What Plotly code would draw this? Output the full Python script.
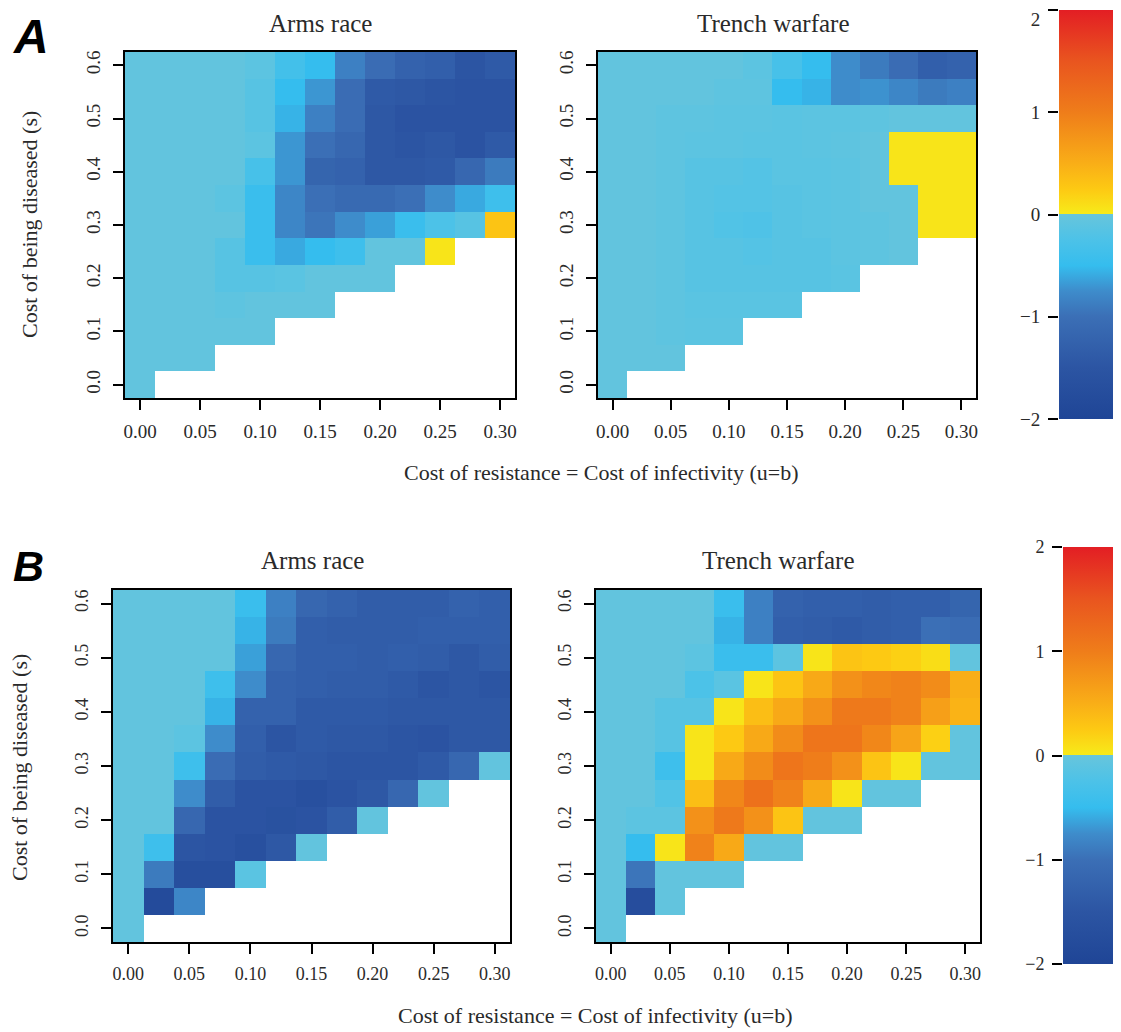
import plotly.graph_objects as go

# ---------------- data ----------------
cost_ub = [0.0, 0.025, 0.05, 0.075, 0.1, 0.125, 0.15, 0.175, 0.2, 0.225, 0.25, 0.275, 0.3]
cost_s_top_down = [0.6, 0.55, 0.5, 0.45, 0.4, 0.35, 0.3, 0.25, 0.2, 0.15, 0.1, 0.05, 0.0]

x_tickvals = [0.0, 0.05, 0.1, 0.15, 0.2, 0.25, 0.3]
x_ticktext = ["0.00", "0.05", "0.10", "0.15", "0.20", "0.25", "0.30"]
y_tickvals = [0.0, 0.1, 0.2, 0.3, 0.4, 0.5, 0.6]
y_ticktext = ["0.0", "0.1", "0.2", "0.3", "0.4", "0.5", "0.6"]
cb_tickvals = [-2, -1, 0, 1, 2]
cb_ticktext = ["\u22122", "\u22121", "0", "1", "2"]

N = None
# rows listed from s = 0.6 (top) down to s = 0.0 (bottom)
a_arms = [
    [-0.05, -0.05, -0.05, -0.05, -0.1, -0.35, -0.5, -0.85, -1.05, -1.25, -1.3, -1.5, -1.4],
    [-0.05, -0.05, -0.05, -0.05, -0.15, -0.5, -0.7, -1.05, -1.4, -1.45, -1.5, -1.55, -1.55],
    [-0.05, -0.05, -0.05, -0.05, -0.15, -0.55, -0.85, -1.05, -1.45, -1.55, -1.55, -1.55, -1.55],
    [-0.05, -0.05, -0.05, -0.05, -0.1, -0.7, -1.0, -1.15, -1.45, -1.5, -1.45, -1.55, -1.4],
    [-0.05, -0.05, -0.05, -0.05, -0.3, -0.7, -1.2, -1.25, -1.45, -1.45, -1.4, -1.15, -0.9],
    [-0.05, -0.05, -0.05, -0.1, -0.45, -0.8, -1.0, -1.1, -1.1, -1.0, -0.75, -0.6, -0.4],
    [-0.05, -0.05, -0.05, -0.05, -0.45, -0.8, -0.95, -0.75, -0.65, -0.45, -0.25, -0.15, 0.3],
    [-0.05, -0.05, -0.05, -0.15, -0.45, -0.6, -0.5, -0.4, -0.05, -0.05, 0.05, N, N],
    [-0.05, -0.05, -0.05, -0.15, -0.15, -0.12, -0.05, -0.05, -0.05, N, N, N, N],
    [-0.05, -0.05, -0.05, -0.08, -0.05, -0.05, -0.05, N, N, N, N, N, N],
    [-0.05, -0.05, -0.05, -0.05, -0.05, N, N, N, N, N, N, N, N],
    [-0.05, -0.05, -0.05, N, N, N, N, N, N, N, N, N, N],
    [-0.05, N, N, N, N, N, N, N, N, N, N, N, N],
]
a_trench = [
    [-0.05, -0.05, -0.05, -0.05, -0.05, -0.1, -0.3, -0.5, -0.75, -0.9, -1.05, -1.3, -1.25],
    [-0.05, -0.05, -0.05, -0.05, -0.08, -0.08, -0.5, -0.55, -0.75, -0.72, -0.8, -0.9, -0.85],
    [-0.05, -0.05, -0.08, -0.08, -0.1, -0.1, -0.12, -0.1, -0.1, -0.08, -0.05, -0.05, -0.05],
    [-0.05, -0.05, -0.08, -0.1, -0.1, -0.12, -0.12, -0.1, -0.08, -0.05, 0.05, 0.05, 0.05],
    [-0.05, -0.05, -0.08, -0.15, -0.15, -0.18, -0.12, -0.12, -0.1, -0.05, 0.05, 0.05, 0.05],
    [-0.05, -0.05, -0.08, -0.15, -0.18, -0.18, -0.15, -0.12, -0.1, -0.05, -0.05, 0.05, 0.05],
    [-0.05, -0.05, -0.08, -0.15, -0.2, -0.22, -0.15, -0.12, -0.1, -0.08, -0.05, 0.05, 0.05],
    [-0.05, -0.05, -0.08, -0.15, -0.15, -0.18, -0.15, -0.15, -0.1, -0.08, -0.05, N, N],
    [-0.05, -0.05, -0.08, -0.15, -0.15, -0.15, -0.15, -0.15, -0.12, N, N, N, N],
    [-0.05, -0.05, -0.08, -0.12, -0.12, -0.12, -0.12, N, N, N, N, N, N],
    [-0.05, -0.05, -0.08, -0.1, -0.1, N, N, N, N, N, N, N, N],
    [-0.05, -0.05, -0.05, N, N, N, N, N, N, N, N, N, N],
    [-0.05, N, N, N, N, N, N, N, N, N, N, N, N],
]
b_arms = [
    [-0.05, -0.05, -0.05, -0.05, -0.45, -0.85, -1.15, -1.25, -1.35, -1.35, -1.35, -1.25, -1.3],
    [-0.05, -0.05, -0.05, -0.05, -0.55, -0.9, -1.3, -1.35, -1.35, -1.35, -1.3, -1.3, -1.3],
    [-0.05, -0.05, -0.05, -0.05, -0.65, -1.15, -1.3, -1.3, -1.35, -1.3, -1.35, -1.45, -1.35],
    [-0.05, -0.05, -0.05, -0.4, -0.75, -1.25, -1.3, -1.35, -1.35, -1.4, -1.5, -1.45, -1.5],
    [-0.05, -0.05, -0.05, -0.55, -1.25, -1.25, -1.4, -1.4, -1.4, -1.45, -1.45, -1.45, -1.45],
    [-0.05, -0.05, -0.1, -0.75, -1.3, -1.5, -1.4, -1.45, -1.45, -1.5, -1.55, -1.45, -1.45],
    [-0.05, -0.05, -0.4, -1.05, -1.35, -1.4, -1.45, -1.5, -1.5, -1.5, -1.4, -1.15, -0.05],
    [-0.05, -0.05, -0.75, -1.35, -1.55, -1.55, -1.65, -1.55, -1.45, -1.15, -0.05, N, N],
    [-0.05, -0.05, -1.15, -1.55, -1.55, -1.6, -1.55, -1.35, -0.05, N, N, N, N],
    [-0.05, -0.4, -1.5, -1.55, -1.65, -1.45, -0.05, N, N, N, N, N, N],
    [-0.05, -0.9, -1.7, -1.7, -0.12, N, N, N, N, N, N, N, N],
    [-0.05, -1.8, -0.8, N, N, N, N, N, N, N, N, N, N],
    [-0.05, N, N, N, N, N, N, N, N, N, N, N, N],
]
b_trench = [
    [-0.05, -0.05, -0.05, -0.05, -0.45, -0.85, -1.25, -1.3, -1.3, -1.35, -1.3, -1.3, -1.2],
    [-0.05, -0.05, -0.05, -0.05, -0.55, -0.85, -1.3, -1.35, -1.4, -1.35, -1.3, -1.0, -1.05],
    [-0.05, -0.05, -0.05, -0.1, -0.45, -0.45, -0.1, 0.05, 0.3, 0.25, 0.2, 0.1, -0.05],
    [-0.05, -0.05, -0.05, -0.25, -0.12, 0.05, 0.3, 0.55, 0.8, 0.9, 0.95, 0.85, 0.5],
    [-0.05, -0.05, -0.15, -0.15, 0.05, 0.35, 0.55, 0.8, 1.05, 1.05, 0.95, 0.65, 0.45],
    [-0.05, -0.05, -0.15, 0.05, 0.25, 0.55, 0.85, 1.1, 1.1, 0.9, 0.6, 0.2, -0.05],
    [-0.05, -0.05, -0.4, 0.05, 0.55, 0.85, 1.1, 1.0, 0.8, 0.3, 0.05, -0.05, -0.05],
    [-0.05, -0.05, -0.2, 0.35, 0.9, 1.15, 0.95, 0.55, 0.05, -0.05, -0.05, N, N],
    [-0.05, -0.1, -0.1, 0.8, 1.05, 0.8, 0.3, -0.05, -0.05, N, N, N, N],
    [-0.05, -0.5, 0.05, 0.95, 0.55, -0.05, -0.05, N, N, N, N, N, N],
    [-0.05, -0.95, -0.05, -0.05, -0.05, N, N, N, N, N, N, N, N],
    [-0.05, -1.75, -0.05, N, N, N, N, N, N, N, N, N, N],
    [-0.05, N, N, N, N, N, N, N, N, N, N, N, N],
]

# ---------------- styling ----------------
# the page places the figure 8 px from the top-left corner, so the figure is
# 8 px smaller and every reference pixel position is shifted by that offset
OFF = 8
W, H = 1121 - OFF, 1032 - OFF
SERIF = "Liberation Serif"
TXT = "#2a2a2a"

colorscale = [
    [0.0, "#1f4596"],
    [0.125, "#2c55a3"],
    [0.25, "#3b6fb6"],
    [0.3125, "#3e8ccb"],
    [0.375, "#35bdee"],
    [0.4375, "#4cc2e8"],
    [0.5, "#67c5dc"],
    [0.5, "#f7eb1a"],
    [0.5625, "#fdc913"],
    [0.625, "#f9ae17"],
    [0.75, "#ef7d1a"],
    [0.875, "#e9551f"],
    [1.0, "#e31e24"],
]

def px_x(p):
    return (p - OFF) / W

def px_y(p):
    return 1 - (p - OFF) / H

y_asc = cost_s_top_down[::-1]

panels = [
    # (z, x-axis id, y-axis id, coloraxis, x px range, y px range, tick font size)
    (a_arms, "x", "y", "coloraxis", (125, 515), (52, 398), 19),
    (a_trench, "x2", "y2", "coloraxis", (598, 976), (52, 398), 19),
    (b_arms, "x3", "y3", "coloraxis2", (113, 510), (590, 942), 18),
    (b_trench, "x4", "y4", "coloraxis2", (596, 980), (590, 942), 18),
]

fig = go.Figure()
layout_axes = {}
for z, xa, ya, ca, (xl, xr), (yt, yb), fs in panels:
    fig.add_trace(go.Heatmap(
        x=cost_ub, y=y_asc, z=z[::-1], xaxis=xa, yaxis=ya, coloraxis=ca,
        hoverongaps=False, zsmooth=False,
    ))
    xname = "xaxis" if xa == "x" else "xaxis" + xa[1:]
    yname = "yaxis" if ya == "y" else "yaxis" + ya[1:]
    common = dict(
        showline=True, linecolor="black", linewidth=1.5, mirror=True,
        ticks="outside", ticklen=10, tickwidth=2, tickcolor="black",
        showgrid=False, zeroline=False, layer="below traces",
        tickfont=dict(family=SERIF, size=fs, color=TXT),
    )
    layout_axes[xname] = dict(
        common, domain=[px_x(xl), px_x(xr)], anchor=ya,
        range=[-0.0125, 0.3125], tickvals=x_tickvals, ticktext=x_ticktext,
        ticklabelstandoff=5,
    )
    layout_axes[yname] = dict(
        common, domain=[px_y(yb), px_y(yt)], anchor=xa,
        range=[-0.025, 0.625], tickvals=y_tickvals, ticktext=y_ticktext,
        tickangle=-90, ticklabelstandoff=6,
    )

# dummy axes carrying the colorbar tick marks on the left side
# (the topmost label of the upper bar sits on its own axis, nudged down
#  so that it stays inside the page)
cb_axes = [
    ("x5", "y5", (1059, 1117), (10, 419), 19, 0, cb_tickvals[:-1], cb_ticktext[:-1]),
    ("x7", "y7", (1059, 1117), (10, 419), 19, 9, cb_tickvals[-1:], cb_ticktext[-1:]),
    ("x6", "y6", (1063, 1121), (547, 964), 18, 0, cb_tickvals, cb_ticktext),
]
for xa, ya, (xl, xr), (yt, yb), fs, shift, tv, tt in cb_axes:
    fig.add_trace(go.Scatter(x=[], y=[], xaxis=xa, yaxis=ya, showlegend=False,
                             hoverinfo="skip"))
    layout_axes["xaxis" + xa[1:]] = dict(domain=[px_x(xl), px_x(xr)], anchor=ya,
                                         visible=False, range=[0, 1])
    layout_axes["yaxis" + ya[1:]] = dict(
        domain=[px_y(yb), px_y(yt)], anchor=xa, range=[-2, 2],
        tickvals=tv, ticktext=tt, side="left",
        ticks="outside", ticklen=10, tickwidth=2, tickcolor="black",
        showgrid=False, zeroline=False, showline=False, ticklabelstandoff=4,
        ticklabelshift=shift, ticklabeloverflow="allow",
        tickfont=dict(family=SERIF, size=fs, color=TXT),
    )

def cbar(xl, xr, yt, yb):
    return dict(
        x=px_x(xl), xanchor="left", xref="paper", xpad=0,
        y=px_y(yt), yanchor="top", yref="paper", ypad=0,
        len=(yb - yt) / H, lenmode="fraction", thickness=xr - xl,
        outlinewidth=0, showticklabels=False, ticks="",
    )

annotations = []
def ann(text, x, y, size, angle=0, family=SERIF, xanchor="center"):
    annotations.append(dict(
        text=text, x=px_x(x), y=px_y(y), xref="paper", yref="paper",
        showarrow=False, textangle=angle, xanchor=xanchor, yanchor="middle",
        font=dict(family=family, size=size, color=TXT if family == SERIF else "black"),
    ))

ann("<b><i>A</i></b>", 11, 36, 48, family="Liberation Sans", xanchor="left")
ann("<b><i>B</i></b>", 11, 566, 43, family="Liberation Sans", xanchor="left")
ann("Arms race", 320, 23, 25)
ann("Trench warfare", 773, 23, 25)
ann("Arms race", 312, 560, 25)
ann("Trench warfare", 778, 560, 25)
ann("Cost of resistance = Cost of infectivity (u=b)", 601, 472, 22)
ann("Cost of resistance = Cost of infectivity (u=b)", 595, 1015, 22)
ann("Cost of being diseased (s)", 29, 225, 22, angle=-90)
ann("Cost of being diseased (s)", 19, 768, 22, angle=-90)

fig.update_layout(
    width=W, height=H, autosize=False,
    margin=dict(l=0, r=0, t=0, b=0, pad=0, autoexpand=False),
    paper_bgcolor="white", plot_bgcolor="white",
    showlegend=False,
    coloraxis=dict(colorscale=colorscale, cmin=-2, cmax=2, colorbar=cbar(1059, 1117, 10, 419)),
    coloraxis2=dict(colorscale=colorscale, cmin=-2, cmax=2, colorbar=cbar(1063, 1121, 547, 964)),
    annotations=annotations,
    **layout_axes,
)

fig.write_html("out.html")
